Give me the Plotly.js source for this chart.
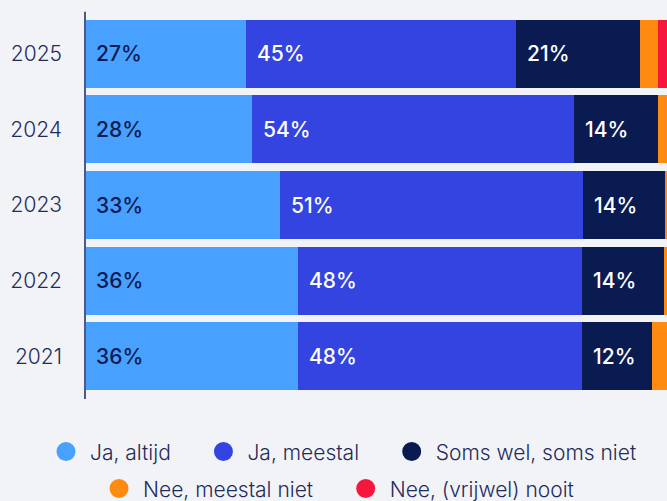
<!DOCTYPE html>
<html>
<head>
<meta charset="utf-8">
<script src="https://cdn.plot.ly/plotly-3.0.1.min.js"></script>
<style>
  html, body { margin: 0; padding: 0; background: #f2f3f7; }
  #chart { width: 667px; height: 501px; }
</style>
</head>
<body>
<div id="chart"></div>
<script>
// Data (percentages per year)
const years = ['2025', '2024', '2023', '2022', '2021'];
const seriesNames = ['Ja, altijd', 'Ja, meestal', 'Soms wel, soms niet', 'Nee, meestal niet', 'Nee, (vrijwel) nooit'];
const jaAltijd   = [27.1, 28.1, 32.8, 35.8, 35.8];
const jaMeestal  = [45.4, 54.1, 50.8, 47.7, 47.7];
const somsWel    = [20.8, 14.1, 13.8, 13.8, 11.8];
const neeMeestal = [3.0, 3.7, 2.6, 2.7, 4.7];
const neeNooit   = [3.7, 0.0, 0.0, 0.0, 0.0];
const labelAltijd  = ['27%', '28%', '33%', '36%', '36%'];
const labelMeestal = ['45%', '54%', '51%', '48%', '48%'];
const labelSoms    = ['21%', '14%', '14%', '14%', '12%'];

const colors = ['#48a0ff', '#3344e0', '#0a1b52', '#ff8a12', '#f7173c'];
const allSeries = [jaAltijd, jaMeestal, somsWel, neeMeestal, neeNooit];
const labels = [labelAltijd, labelMeestal, labelSoms];
const labelColors = ['#0a1b52', '#ffffff', '#ffffff'];
const FONT = 'Inter, "Open Sans", sans-serif';
const catOrder = years.slice().reverse();
const legendRow = [1, 1, 1, 2, 2];
const NBSP = '\u00a0';

const traces = [];
allSeries.forEach((vals, i) => {
  traces.push({
    type: 'bar', orientation: 'h', x: vals, y: years,
    name: seriesNames[i], marker: { color: colors[i], line: { width: 0 } },
    showlegend: false, hoverinfo: 'skip'
  });
});
// legend entries with round markers (drawn on a hidden helper axis)
allSeries.forEach((vals, i) => {
  const lastInRow = (i === 2 || i === 4);
  traces.push({
    type: 'scatter', mode: 'markers', x: [-10], y: [-10],
    xaxis: 'x2', yaxis: 'y2',
    name: seriesNames[i] + (lastInRow ? '' : NBSP.repeat(4)),
    marker: { color: colors[i], size: 20, symbol: 'circle', line: { color: colors[i], width: 3 } },
    legend: legendRow[i] === 1 ? 'legend' : 'legend2', hoverinfo: 'skip'
  });
});

// annotations: labels at start of each segment
const annotations = [];
years.forEach((yr, j) => {
  let base = 0;
  const yIndex = catOrder.indexOf(yr);
  for (let i = 0; i < 3; i++) {
    annotations.push({
      x: base, y: yIndex, xref: 'x', yref: 'y', text: labels[i][j],
      showarrow: false, xanchor: 'left', yanchor: 'middle', xshift: 9,
      font: { family: FONT, size: 21, color: labelColors[i], weight: 500 }
    });
    base += allSeries[i][j];
  }
});

const legendFont = { family: FONT, size: 21, color: '#1f2c5c', weight: 300 };
const layout = {
  width: 667, height: 501,
  paper_bgcolor: '#f2f3f7', plot_bgcolor: '#f2f3f7',
  margin: { l: 85, r: 0, t: 16, b: 107, pad: 0, autoexpand: false },
  barmode: 'stack', bargap: 0.1,
  xaxis: { range: [0, 97.8], autorange: false, showgrid: false, zeroline: false, showticklabels: false, showline: false },
  yaxis: {
    type: 'category', categoryorder: 'array', categoryarray: catOrder,
    range: [-0.5, 4.5], autorange: false,
    showgrid: false, zeroline: false, showline: false, ticks: '',
    ticklabelstandoff: 22,
    tickfont: { family: FONT, size: 21, color: '#1f2c5c', weight: 300 }
  },
  xaxis2: { visible: false, range: [0, 1], autorange: false, overlaying: 'x' },
  yaxis2: { visible: false, range: [0, 1], autorange: false, overlaying: 'y' },
  shapes: [{
    type: 'line', xref: 'paper', yref: 'paper', x0: 0, x1: 0, y0: -0.013, y1: 1.011,
    line: { color: '#4a5a8a', width: 2 }
  }],
  annotations: annotations,
  legend: {
    orientation: 'h', traceorder: 'normal', itemwidth: 38, x: -0.0739, xanchor: 'left', y: -0.153, yanchor: 'middle',
    font: legendFont, bgcolor: 'rgba(0,0,0,0)', itemclick: false, itemdoubleclick: false
  },
  legend2: {
    orientation: 'h', traceorder: 'normal', itemwidth: 38, x: 0.0172, xanchor: 'left', y: -0.251, yanchor: 'middle',
    font: legendFont, bgcolor: 'rgba(0,0,0,0)', itemclick: false, itemdoubleclick: false
  }
};

Plotly.newPlot('chart', traces, layout, { displayModeBar: false, staticPlot: true });
</script>
</body>
</html>
